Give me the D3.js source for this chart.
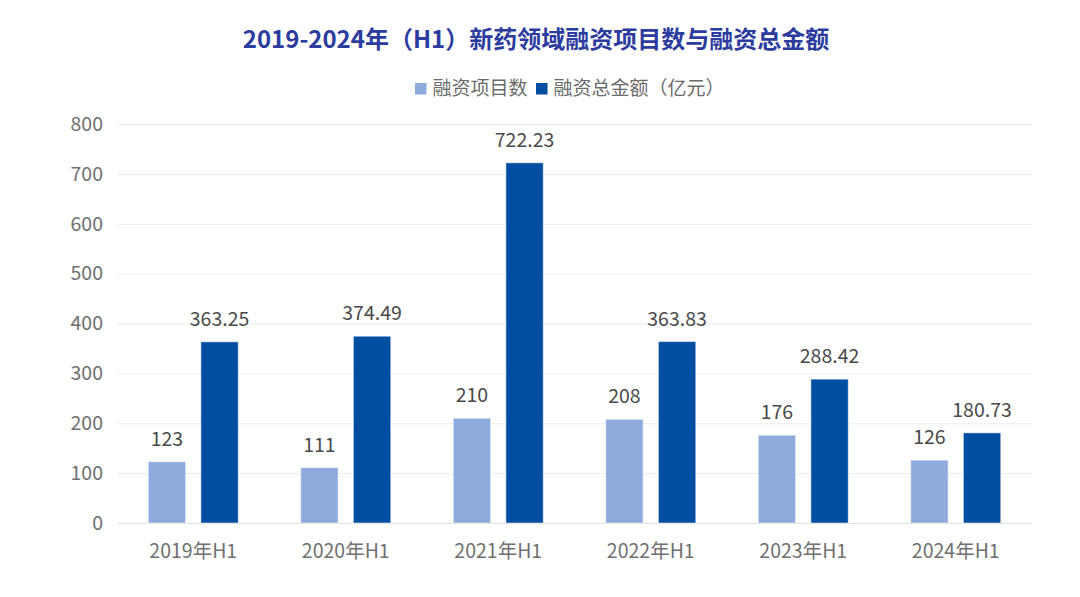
<!DOCTYPE html>
<html><head><meta charset="utf-8">
<script src="https://cdn.jsdelivr.net/npm/d3@7"></script>
<style>body{margin:0;background:#fff;}svg{display:block;font-family:"Noto Sans CJK SC","Noto Sans",sans-serif;}</style>
</head><body><svg id="c" width="1080" height="597"></svg>
<script>
const categories = ["2019年H1","2020年H1","2021年H1","2022年H1","2023年H1","2024年H1"];
const projectCounts = [123,111,210,208,176,126];
const amounts = [363.25,374.49,722.23,363.83,288.42,180.73];
const amountLabels = ["363.25","374.49","722.23","363.83","288.42","180.73"];
const seriesNames = ["融资项目数","融资总金额（亿元）"];
const yTicks = [0,100,200,300,400,500,600,700,800];
const colors = ["#8faadc","#004ea2"];

const FF = "'Noto Sans CJK SC','Noto Sans',sans-serif";
const svg = d3.select("#c");
const m = {l:117, r:1032, t:124, b:523};
const x = d3.scaleBand().domain(categories).range([m.l, m.r]).paddingInner(0).paddingOuter(0);
const x1 = d3.scaleBand().domain([0,1]).range([0, 90]).paddingInner(0.29);
const y = d3.scaleLinear().domain([0,800]).range([m.b, m.t]);

svg.append("text").attr("x",536).attr("y",48).attr("text-anchor","middle")
  .attr("font-size",24).attr("font-weight","bold").attr("fill","#2b3c9e")
  .text("2019-2024年（H1）新药领域融资项目数与融资总金额");

// legend
const lg = svg.append("g");
const legX = [415, 536];
seriesNames.forEach((n,i)=>{
  lg.append("rect").attr("x",legX[i]).attr("y",83).attr("width",11.5).attr("height",11.5).attr("fill",colors[i]);
  lg.append("text").attr("x",legX[i]+17.5).attr("y",95).attr("font-size",19).attr("fill","#6b6b6b").text(n);
});

// grid
svg.append("g").selectAll("line").data(yTicks).join("line")
  .attr("x1",m.l).attr("x2",m.r).attr("y1",d=>y(d)+0.5).attr("y2",d=>y(d)+0.5)
  .attr("stroke",d=>d===0?"#e0e0e0":"#ececec").attr("stroke-width",1);

// y axis labels
const ya = svg.append("g").attr("transform",`translate(${m.l-14},0)`)
  .call(d3.axisLeft(y).tickValues(yTicks).tickSize(0).tickPadding(0));
ya.select(".domain").remove();
ya.selectAll("text").attr("font-size",19.5).attr("fill","#707070").attr("font-family",FF);

// x axis labels
const xa = svg.append("g").attr("transform",`translate(0,${m.b+13})`)
  .call(d3.axisBottom(x).tickSize(0).tickPadding(8));
xa.select(".domain").remove();
xa.selectAll("text").attr("font-size",19.5).attr("fill","#707070").attr("font-family",FF);

const data = categories.map((c,i)=>({c, vals:[projectCounts[i], amounts[i]], labels:[String(projectCounts[i]), amountLabels[i]]}));
const g = svg.append("g").selectAll("g").data(data).join("g")
  .attr("transform",d=>`translate(${x(d.c)+x.bandwidth()/2-45},0)`);
g.each(function(d){
  const s = d3.select(this);
  [0,1].forEach(k=>{
    s.append("rect").attr("x",x1(k)).attr("width",x1.bandwidth())
      .attr("y",y(d.vals[k])).attr("height",m.b-y(d.vals[k])).attr("fill",colors[k])
      .attr("stroke","#fff").attr("stroke-opacity",0.5).attr("stroke-width",1);
    s.append("text").attr("x",x1(k)+x1.bandwidth()/2).attr("y",y(d.vals[k])-16)
      .attr("text-anchor","middle").attr("font-size",19.5).attr("fill","#4a4a4a").text(d.labels[k]);
  });
});
</script></body></html>
